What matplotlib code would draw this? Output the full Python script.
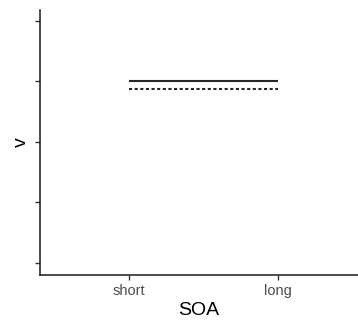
import matplotlib
matplotlib.use("Agg")
import matplotlib.pyplot as plt

plt.rcParams['font.family'] = ['Liberation Sans', 'DejaVu Sans']

# Data
soa = ['short', 'long']
v_solid = [3.0, 3.0]
v_dashed = [2.88, 2.88]
y_ticks = [0, 1, 2, 3, 4]

fig = plt.figure(figsize=(3.58, 3.21), dpi=100)
ax = fig.add_axes([40 / 358, 46 / 321, 318 / 358, 265 / 321])

x = list(range(len(soa)))
ax.plot(x, v_solid, color='#262626', lw=1.5, solid_capstyle='butt')
ax.plot(x, v_dashed, color='#262626', lw=1.5, linestyle=(0, (1.5, 1.2)))

ax.set_xlim(-0.6, 1.54)
ax.set_ylim(-0.2, 4.18)
ax.set_xticks(x)
ax.set_xticklabels(soa, fontsize=10.5, color='#4d4d4d')
ax.set_yticks(y_ticks)
ax.set_yticklabels([])
ax.tick_params(axis='both', length=3.5, width=1, color='#333333')
ax.tick_params(axis='x', pad=3)

for side in ['top', 'right']:
    ax.spines[side].set_visible(False)
for side in ['left', 'bottom']:
    ax.spines[side].set_linewidth(1.1)
    ax.spines[side].set_color('#1a1a1a')

ax.set_xlabel('SOA', fontsize=14, labelpad=3)
ax.set_ylabel('v', fontsize=14, labelpad=0, rotation=90)

fig.savefig('out.png', dpi=100)
